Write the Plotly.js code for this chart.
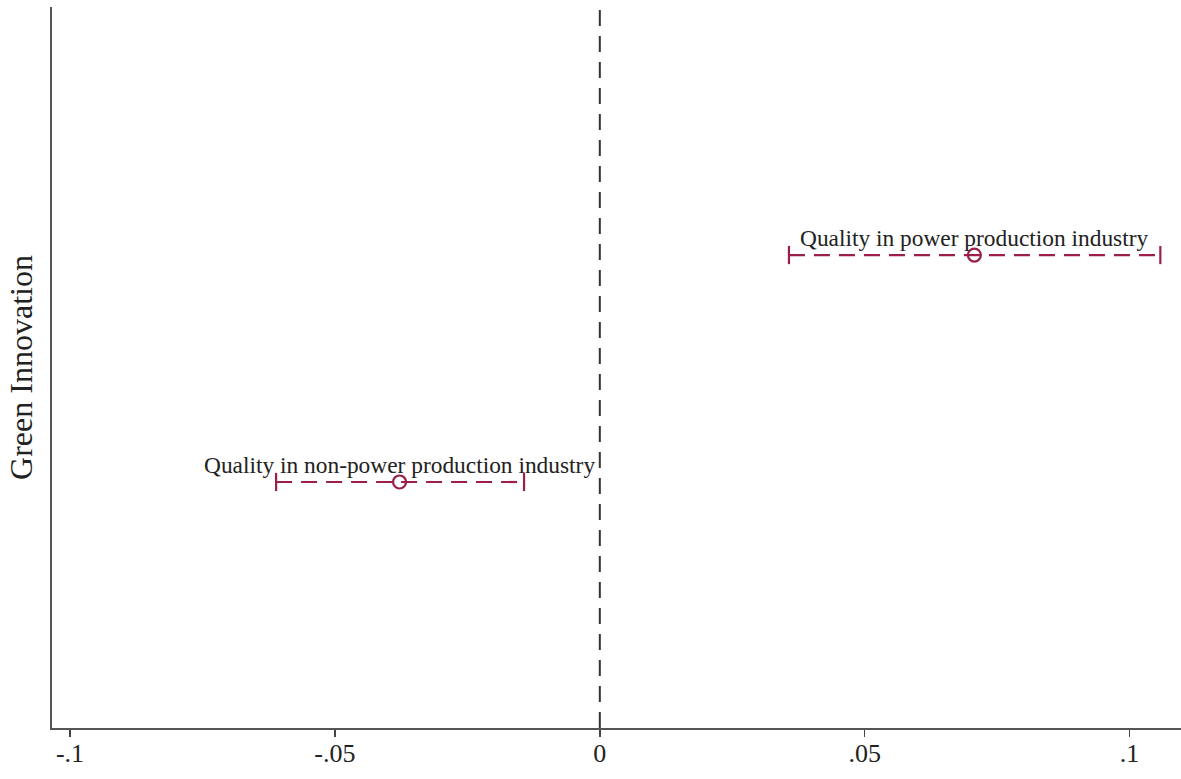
<!DOCTYPE html>
<html>
<head>
<meta charset="utf-8">
<script src="https://cdn.plot.ly/plotly-3.0.1.min.js"></script>
<style>html,body{margin:0;padding:0;background:#fff;}#chart{width:1181px;height:779px;}</style>
</head>
<body>
<div id="chart"></div>
<script>
// Data
const labels = ["Quality in power production industry", "Quality in non-power production industry"];
const coef = [0.0707, -0.0378];
const ciLow = [0.0357, -0.0611];
const ciHigh = [0.1058, -0.0143];
const ypos = [2, 1];
const xTickVals = [-0.1, -0.05, 0, 0.05, 0.1];
const xTickText = ["-.1", "-.05", "0", ".05", ".1"];

const col = "#9b1f4a";
const font = "Liberation Serif, Times New Roman, serif";

const traces = [];
for (let i = 0; i < coef.length; i++) {
  traces.push({
    x: [ciLow[i], ciHigh[i]], y: [ypos[i], ypos[i]],
    mode: "lines", type: "scatter",
    line: {color: col, width: 2.2, dash: "16px,9px"},
    hoverinfo: "skip", showlegend: false
  });
  traces.push({
    x: [ciLow[i], ciHigh[i]], y: [ypos[i], ypos[i]],
    mode: "markers", type: "scatter",
    marker: {symbol: "line-ns", size: 13, color: col, line: {color: col, width: 2.2}},
    hoverinfo: "skip", showlegend: false
  });
}
traces.push({
  x: coef, y: ypos, mode: "markers", type: "scatter",
  marker: {symbol: "circle-open", size: 13, color: col, line: {color: col, width: 2.2}},
  showlegend: false
});

const annotations = coef.map((c, i) => ({
  x: c, y: ypos[i], xref: "x", yref: "y", text: labels[i],
  showarrow: false, yanchor: "bottom", yshift: 2,
  font: {family: font, size: 23.4, color: "#222"}
}));

const layout = {
  width: 1181, height: 779,
  margin: {l: 52, r: 0, t: 7, b: 51},
  paper_bgcolor: "#fff", plot_bgcolor: "#fff",
  font: {family: font, color: "#222"},
  annotations: annotations,
  xaxis: {
    range: [-0.1034, 0.1097],
    tickvals: xTickVals, ticktext: xTickText,
    ticks: "outside", ticklen: 7, tickwidth: 1.5, tickcolor: "#444",
    ticklabelstandoff: -6,
    showgrid: false, zeroline: false,
    showline: true, linecolor: "#555", linewidth: 2,
    tickfont: {family: font, size: 26, color: "#222"}
  },
  yaxis: {
    range: [-0.084, 3.093],
    showticklabels: false, ticks: "",
    showgrid: false, zeroline: false,
    showline: true, linecolor: "#555", linewidth: 2,
    title: {text: "Green Innovation", font: {family: font, size: 32, color: "#222"}, standoff: 8}
  },
  shapes: [{
    type: "line", xref: "x", yref: "paper", x0: 0, x1: 0, y0: 0, y1: 1,
    line: {color: "#333", width: 2, dash: "16px,10px"}
  }]
};

Plotly.newPlot("chart", traces, layout, {displayModeBar: false, staticPlot: true});
</script>
</body>
</html>
